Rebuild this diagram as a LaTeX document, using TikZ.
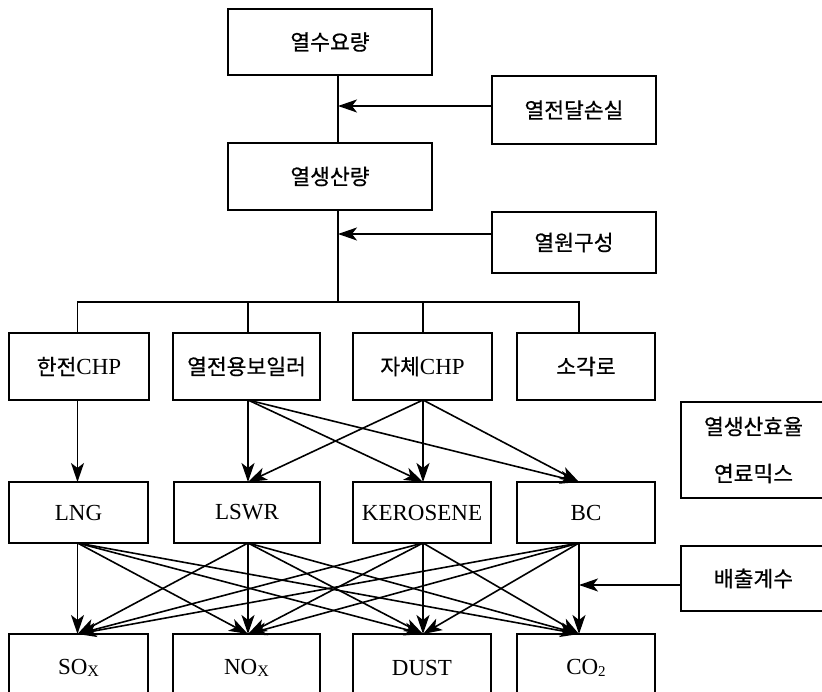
\documentclass[tikz,border=0pt]{standalone}
\usepackage{fontspec}
\setmainfont{Liberation Serif}
\newfontfamily\kr[FakeBold=0.6]{Noto Sans CJK KR}
\usetikzlibrary{arrows.meta}
\begin{document}
\begin{tikzpicture}[x=1pt,y=-1pt,
  box/.style={draw, line width=1.5pt, outer sep=0pt, inner sep=0pt, font=\fontsize{23}{26}\selectfont},
  kbox/.style={box, font=\kr\fontsize{21.5}{25}\selectfont},
  ln/.style={line width=1.6pt},
  arr/.style={line width=1.6pt, -{Stealth[length=19pt,width=13pt,inset=5pt]}}]
\useasboundingbox (0,0) rectangle (822,692);
% column / spine coordinates
\coordinate (sp) at (338,0);
\coordinate (c1) at (77.5,0);
\coordinate (c2) at (248,0);
\coordinate (c3) at (423,0);
\coordinate (c4) at (579,0);
\coordinate (busy) at (0,302);
\coordinate (a1) at (338,106);
\coordinate (a2) at (338,234);
\coordinate (a3) at (579,585);
% top
\node[kbox, minimum width=204pt, minimum height=66pt] (demand) at (330,42) {열수요량};
\node[kbox, minimum width=164pt, minimum height=68pt] (loss) at (574,110) {열전달손실};
\node[kbox, minimum width=204pt, minimum height=67pt] (prod) at (330,176.5) {열생산량};
\node[kbox, minimum width=164pt, minimum height=61pt] (mix) at (574,242.5) {열원구성};
% row 1
\node[box, minimum width=140pt, minimum height=67pt] (hanjeon) at (79,366.5) {{\kr\fontsize{21.5}{25}\selectfont 한전}CHP};
\node[kbox, minimum width=147pt, minimum height=67pt] (boiler) at (246.5,366.5) {열전용보일러};
\node[box, minimum width=139pt, minimum height=67pt] (selfchp) at (422.5,366.5) {{\kr\fontsize{21.5}{25}\selectfont 자체}CHP};
\node[kbox, minimum width=138pt, minimum height=67pt] (incin) at (586,366.5) {소각로};
\node[box, align=center, font=\kr\fontsize{21.5}{47}\selectfont, minimum width=145pt, minimum height=96pt] (eff) at (753.5,450) {열생산효율\\연료믹스};
% fuels
\node[box, minimum width=139pt, minimum height=61pt] (lng) at (78.5,512.5) {LNG};
\node[box, minimum width=146pt, minimum height=61pt] (lswr) at (247,512.5) {LSWR};
\node[box, minimum width=138pt, minimum height=61pt] (kero) at (422,512.5) {KEROSENE};
\node[box, minimum width=138pt, minimum height=61pt] (bc) at (586,512.5) {BC};
\node[kbox, minimum width=145pt, minimum height=65pt] (ef) at (753.5,578.5) {배출계수};
% emissions
\node[box, minimum width=139pt, minimum height=68pt] (sox) at (78.5,668) {SO\raisebox{-2pt}{\fontsize{16}{16}\selectfont X}};
\node[box, minimum width=147pt, minimum height=68pt] (nox) at (246.5,668) {NO\raisebox{-2pt}{\fontsize{16}{16}\selectfont X}};
\node[box, minimum width=138pt, minimum height=68pt] (dust) at (422,668) {DUST};
\node[box, minimum width=138pt, minimum height=68pt] (co2) at (586,668) {CO\raisebox{-2pt}{\fontsize{15}{15}\selectfont 2}};
% spine
\draw[ln] (demand.south -| sp) -- (prod.north -| sp);
\draw[ln] (prod.south -| sp) -- (sp |- busy);
\draw[arr] (loss.west |- a1) -- (a1);
\draw[arr] (mix.west |- a2) -- (a2);
% bus
\draw[ln] (hanjeon.north -| c1) -- (c1 |- busy) -- (c4 |- busy) -- (incin.north -| c4);
\draw[ln] (c2 |- busy) -- (boiler.north -| c2);
\draw[ln] (c3 |- busy) -- (selfchp.north -| c3);
% row1 -> fuels
\draw[arr] (hanjeon.south -| c1) -- (lng.north -| c1);
\draw[arr] (boiler.south -| c2) -- (lswr.north -| c2);
\draw[arr] (boiler.south -| c2) -- (kero.north -| c3);
\draw[arr] (boiler.south -| c2) -- (bc.north -| c4);
\draw[arr] (selfchp.south -| c3) -- (lswr.north -| c2);
\draw[arr] (selfchp.south -| c3) -- (kero.north -| c3);
\draw[arr] (selfchp.south -| c3) -- (bc.north -| c4);
% fuels -> emissions
\foreach \f/\fc in {lng/c1, lswr/c2, kero/c3, bc/c4}
  \foreach \e/\ec in {sox/c1, nox/c2, dust/c3, co2/c4}
    \draw[arr] (\f.south -| \fc) -- (\e.north -| \ec);
\draw[arr] (ef.west |- a3) -- (a3);
\end{tikzpicture}
\end{document}
